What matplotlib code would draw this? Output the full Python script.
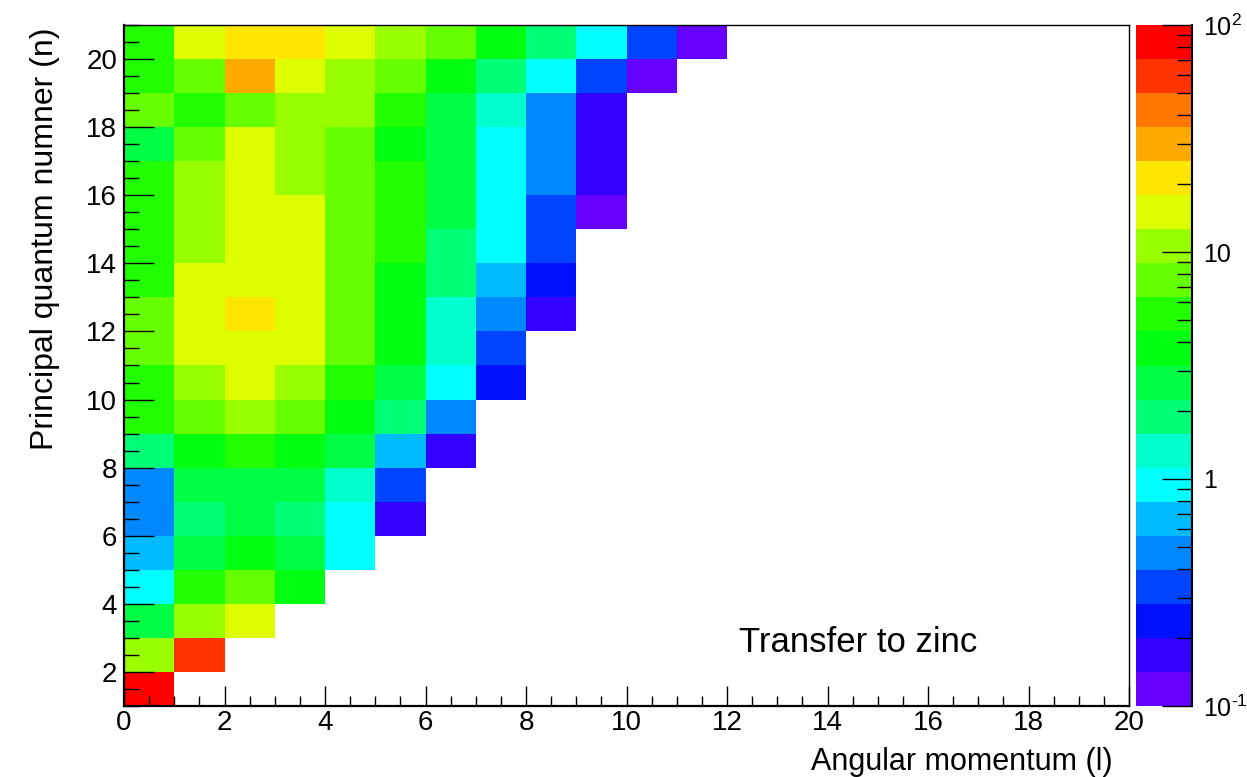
import numpy as np
import matplotlib.pyplot as plt
from matplotlib.colors import ListedColormap, LogNorm
from matplotlib.ticker import MultipleLocator, LogLocator, NullFormatter

plt.rcParams['font.family'] = ['Liberation Sans', 'DejaVu Sans']
plt.rcParams['mathtext.fontset'] = 'custom'
plt.rcParams['mathtext.rm'] = 'Liberation Sans'
plt.rcParams['mathtext.it'] = 'Liberation Sans:italic'

l_edges = np.arange(0, 21)   # angular momentum bins
n_edges = np.arange(1, 22)   # principal quantum number bins

# transfer per bin, one list per n, starting at l = 0
n01 = [84]
n02 = [10.6, 60]
n03 = [2.7, 10.6, 15]
n04 = [0.95, 5.3, 7.5, 3.8]
n05 = [0.67, 2.7, 3.8, 2.7, 0.95]
n06 = [0.47, 1.9, 2.7, 1.9, 0.95, 0.17]
n07 = [0.47, 2.7, 2.7, 2.7, 1.3, 0.33]
n08 = [1.9, 3.8, 5.3, 3.8, 2.7, 0.67, 0.17]
n09 = [5.3, 7.5, 10.6, 7.5, 3.8, 1.9, 0.47]
n10 = [5.3, 10.6, 15, 10.6, 5.3, 2.7, 0.95, 0.24]
n11 = [7.5, 15, 15, 15, 7.5, 3.8, 1.3, 0.33]
n12 = [7.5, 15, 21, 15, 7.5, 3.8, 1.3, 0.47, 0.17]
n13 = [5.3, 15, 15, 15, 7.5, 3.8, 1.9, 0.67, 0.24]
n14 = [5.3, 10.6, 15, 15, 7.5, 5.3, 1.9, 0.95, 0.33]
n15 = [5.3, 10.6, 15, 15, 7.5, 5.3, 2.7, 0.95, 0.33, 0.12]
n16 = [5.3, 10.6, 15, 10.6, 7.5, 5.3, 2.7, 0.95, 0.47, 0.17]
n17 = [2.7, 7.5, 15, 10.6, 7.5, 3.8, 2.7, 0.95, 0.47, 0.17]
n18 = [7.5, 5.3, 7.5, 10.6, 10.6, 5.3, 2.7, 1.3, 0.47, 0.17]
n19 = [5.3, 7.5, 30, 15, 10.6, 7.5, 3.8, 1.9, 0.95, 0.33, 0.12]
n20 = [5.3, 15, 21, 21, 15, 10.6, 7.5, 3.8, 1.9, 0.95, 0.33, 0.12]
rows = [n01, n02, n03, n04, n05, n06, n07, n08, n09, n10,
        n11, n12, n13, n14, n15, n16, n17, n18, n19, n20]

grid = np.full((20, 20), np.nan)
for i, row in enumerate(rows):
    grid[i, :len(row)] = row
grid = np.ma.masked_invalid(grid)

palette = ListedColormap(['#6600ff', '#3300ff', '#0011ff', '#0044ff', '#0088ff',
                          '#00bbff', '#00ffff', '#00ffcc', '#00ff77', '#00ff44',
                          '#00ff11', '#22ff00', '#66ff00', '#99ff00', '#ddff00',
                          '#ffe600', '#ffaa00', '#ff7700', '#ff3300', '#ff0000'])

fig = plt.figure(figsize=(12.47, 7.77), dpi=100)
ax = fig.add_axes([124/1247, 71/777, 1005/1247, 681/777])
mesh = ax.pcolormesh(l_edges, n_edges, grid, cmap=palette, norm=LogNorm(0.1, 100))
ax.set_xlim(0, 20)
ax.set_ylim(1, 21)
ax.xaxis.set_major_locator(MultipleLocator(2))
ax.xaxis.set_minor_locator(MultipleLocator(0.5))
ax.yaxis.set_major_locator(MultipleLocator(2))
ax.yaxis.set_minor_locator(MultipleLocator(0.5))
ax.tick_params(which='both', direction='in', top=False, right=False, labelsize=20, width=1)
ax.tick_params(axis='x', which='major', length=14.4, pad=3)
ax.tick_params(axis='x', which='minor', length=7.2)
ax.tick_params(axis='y', which='major', length=21.6, pad=5)
ax.tick_params(axis='y', which='minor', length=10.8)
for side in ['top', 'right']:
    ax.spines[side].set_linewidth(1)
for side in ['bottom', 'left']:
    ax.spines[side].set_linewidth(1.6)

ax.text(12.23, 2.59, 'Transfer to zinc', fontsize=25, va='baseline')
fig.text(1113/1247, 7/777, 'Angular momentum (l)', fontsize=22, ha='right', va='baseline')
fig.text(45/1247, 1 - 27/777, 'Principal quantum numner (n)', fontsize=23,
         rotation=90, ha='center', va='top')

cax = fig.add_axes([1136/1247, 71/777, 56/1247, 681/777])
cb = fig.colorbar(mesh, cax=cax)
cb.outline.set_visible(False)
cb.set_ticks([0.1, 1, 10, 100])
cb.set_ticklabels([r'$\mathregular{10^{\text{-}1}}$', '1', '10', r'$\mathregular{10^{2}}$'])
cax.yaxis.set_minor_locator(LogLocator(base=10, subs=np.arange(2, 10)))
cax.yaxis.set_minor_formatter(NullFormatter())
cax.tick_params(which='both', direction='in', right=True, left=False, labelsize=18, pad=8, width=1)
cax.tick_params(which='major', length=21.6)
cax.tick_params(which='minor', length=10.8)
cax.plot([1, 1], [0, 1], transform=cax.transAxes, color='k', lw=1.5, clip_on=False)

fig.savefig('out.png', dpi=100)
